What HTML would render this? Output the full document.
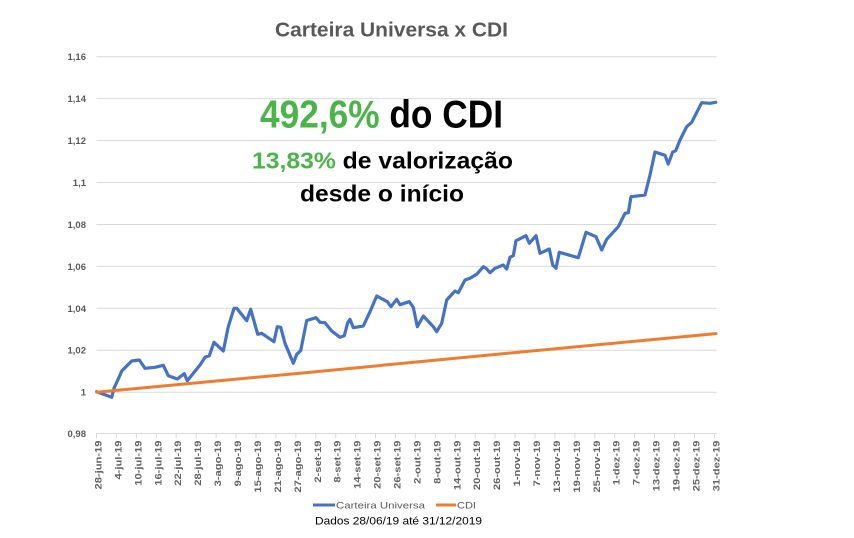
<!DOCTYPE html>
<html>
<head>
<meta charset="utf-8">
<style>
html,body{margin:0;padding:0;background:#fff;}
svg{display:block;font-family:"Liberation Sans",sans-serif;}
</style>
</head>
<body>
<svg width="854" height="538" viewBox="0 0 854 538" xmlns="http://www.w3.org/2000/svg">
<rect width="854" height="538" fill="#fff"/>
<!-- title -->
<text x="275" y="36.7" font-size="20" font-weight="bold" fill="#595959" textLength="233" lengthAdjust="spacingAndGlyphs">Carteira Universa x CDI</text>

<!-- gridlines -->
<g stroke="#d9d9d9" stroke-width="1">
<line x1="96.5" x2="716.5" y1="56.7" y2="56.7"/>
<line x1="96.5" x2="716.5" y1="98.6" y2="98.6"/>
<line x1="96.5" x2="716.5" y1="140.6" y2="140.6"/>
<line x1="96.5" x2="716.5" y1="182.5" y2="182.5"/>
<line x1="96.5" x2="716.5" y1="224.5" y2="224.5"/>
<line x1="96.5" x2="716.5" y1="266.4" y2="266.4"/>
<line x1="96.5" x2="716.5" y1="308.4" y2="308.4"/>
<line x1="96.5" x2="716.5" y1="350.3" y2="350.3"/>
<line x1="96.5" x2="716.5" y1="392.3" y2="392.3"/>
<line x1="96.5" x2="716.5" y1="433.5" y2="433.5"/>
</g>

<!-- y labels -->
<g font-size="9.5" font-weight="bold" fill="#595959" text-anchor="end">
<text x="86" y="60">1,16</text>
<text x="86" y="102">1,14</text>
<text x="86" y="144">1,12</text>
<text x="86" y="186">1,1</text>
<text x="86" y="228">1,08</text>
<text x="86" y="270">1,06</text>
<text x="86" y="312">1,04</text>
<text x="86" y="353.5">1,02</text>
<text x="86" y="395.5">1</text>
<text x="86" y="437">0,98</text>
</g>

<!-- x ticks -->
<g stroke="#d9d9d9" stroke-width="1">
<line x1="96.5" x2="96.5" y1="433.5" y2="438.5"/>
<line x1="116.4" x2="116.4" y1="433.5" y2="438.5"/>
<line x1="136.4" x2="136.4" y1="433.5" y2="438.5"/>
<line x1="156.3" x2="156.3" y1="433.5" y2="438.5"/>
<line x1="176.2" x2="176.2" y1="433.5" y2="438.5"/>
<line x1="196.2" x2="196.2" y1="433.5" y2="438.5"/>
<line x1="216.1" x2="216.1" y1="433.5" y2="438.5"/>
<line x1="236.0" x2="236.0" y1="433.5" y2="438.5"/>
<line x1="256.0" x2="256.0" y1="433.5" y2="438.5"/>
<line x1="275.9" x2="275.9" y1="433.5" y2="438.5"/>
<line x1="295.8" x2="295.8" y1="433.5" y2="438.5"/>
<line x1="315.8" x2="315.8" y1="433.5" y2="438.5"/>
<line x1="335.7" x2="335.7" y1="433.5" y2="438.5"/>
<line x1="355.6" x2="355.6" y1="433.5" y2="438.5"/>
<line x1="375.5" x2="375.5" y1="433.5" y2="438.5"/>
<line x1="395.5" x2="395.5" y1="433.5" y2="438.5"/>
<line x1="415.4" x2="415.4" y1="433.5" y2="438.5"/>
<line x1="435.3" x2="435.3" y1="433.5" y2="438.5"/>
<line x1="455.3" x2="455.3" y1="433.5" y2="438.5"/>
<line x1="475.2" x2="475.2" y1="433.5" y2="438.5"/>
<line x1="495.1" x2="495.1" y1="433.5" y2="438.5"/>
<line x1="515.1" x2="515.1" y1="433.5" y2="438.5"/>
<line x1="535.0" x2="535.0" y1="433.5" y2="438.5"/>
<line x1="554.9" x2="554.9" y1="433.5" y2="438.5"/>
<line x1="574.9" x2="574.9" y1="433.5" y2="438.5"/>
<line x1="594.8" x2="594.8" y1="433.5" y2="438.5"/>
<line x1="614.7" x2="614.7" y1="433.5" y2="438.5"/>
<line x1="634.7" x2="634.7" y1="433.5" y2="438.5"/>
<line x1="654.6" x2="654.6" y1="433.5" y2="438.5"/>
<line x1="674.5" x2="674.5" y1="433.5" y2="438.5"/>
<line x1="694.5" x2="694.5" y1="433.5" y2="438.5"/>
<line x1="714.4" x2="714.4" y1="433.5" y2="438.5"/>
</g>

<!-- x labels -->
<g font-size="9.3" font-weight="bold" fill="#626262" text-anchor="end">
<text transform="translate(101.5,440.5) rotate(-90) scale(1.2,1)">28-jun-19</text>
<text transform="translate(121.4,440.5) rotate(-90) scale(1.2,1)">4-jul-19</text>
<text transform="translate(141.4,440.5) rotate(-90) scale(1.2,1)">10-jul-19</text>
<text transform="translate(161.3,440.5) rotate(-90) scale(1.2,1)">16-jul-19</text>
<text transform="translate(181.2,440.5) rotate(-90) scale(1.2,1)">22-jul-19</text>
<text transform="translate(201.2,440.5) rotate(-90) scale(1.2,1)">28-jul-19</text>
<text transform="translate(221.1,440.5) rotate(-90) scale(1.2,1)">3-ago-19</text>
<text transform="translate(241.0,440.5) rotate(-90) scale(1.2,1)">9-ago-19</text>
<text transform="translate(261.0,440.5) rotate(-90) scale(1.2,1)">15-ago-19</text>
<text transform="translate(280.9,440.5) rotate(-90) scale(1.2,1)">21-ago-19</text>
<text transform="translate(300.8,440.5) rotate(-90) scale(1.2,1)">27-ago-19</text>
<text transform="translate(320.8,440.5) rotate(-90) scale(1.2,1)">2-set-19</text>
<text transform="translate(340.7,440.5) rotate(-90) scale(1.2,1)">8-set-19</text>
<text transform="translate(360.6,440.5) rotate(-90) scale(1.2,1)">14-set-19</text>
<text transform="translate(380.5,440.5) rotate(-90) scale(1.2,1)">20-set-19</text>
<text transform="translate(400.5,440.5) rotate(-90) scale(1.2,1)">26-set-19</text>
<text transform="translate(420.4,440.5) rotate(-90) scale(1.2,1)">2-out-19</text>
<text transform="translate(440.3,440.5) rotate(-90) scale(1.2,1)">8-out-19</text>
<text transform="translate(460.3,440.5) rotate(-90) scale(1.2,1)">14-out-19</text>
<text transform="translate(480.2,440.5) rotate(-90) scale(1.2,1)">20-out-19</text>
<text transform="translate(500.1,440.5) rotate(-90) scale(1.2,1)">26-out-19</text>
<text transform="translate(520.1,440.5) rotate(-90) scale(1.2,1)">1-nov-19</text>
<text transform="translate(540.0,440.5) rotate(-90) scale(1.2,1)">7-nov-19</text>
<text transform="translate(559.9,440.5) rotate(-90) scale(1.2,1)">13-nov-19</text>
<text transform="translate(579.9,440.5) rotate(-90) scale(1.2,1)">19-nov-19</text>
<text transform="translate(599.8,440.5) rotate(-90) scale(1.2,1)">25-nov-19</text>
<text transform="translate(619.7,440.5) rotate(-90) scale(1.2,1)">1-dez-19</text>
<text transform="translate(639.7,440.5) rotate(-90) scale(1.2,1)">7-dez-19</text>
<text transform="translate(659.6,440.5) rotate(-90) scale(1.2,1)">13-dez-19</text>
<text transform="translate(679.5,440.5) rotate(-90) scale(1.2,1)">19-dez-19</text>
<text transform="translate(699.5,440.5) rotate(-90) scale(1.2,1)">25-dez-19</text>
<text transform="translate(719.4,440.5) rotate(-90) scale(1.2,1)">31-dez-19</text>
</g>

<!-- Carteira Universa series -->
<polyline fill="none" stroke="#4472C4" stroke-width="3.2" stroke-linejoin="round" stroke-linecap="round" points="
96.7,391.7 111.7,397.3 114,388.3 119.3,376.7 121.7,371 131.7,361 139.3,360 145,368.3 155,367.3 163.3,365.3
168.3,375.7 177.3,379 184.3,373.7 187.3,380.7 200,365 205,357.3 209.3,355.7 214,342.3 223.3,351 228.3,326.7
234,308.3 236.7,308.3 246.7,320.7 250.7,309.3 257.7,334.3 261.7,333.3 274,341.7 277.3,326.7 280.7,327.3 285,343.3
293.3,363.3 296.7,354.3 300.7,350.7 306.7,320.5 316,317.7 320,322.3 325,322.7 331.7,331 340,337.3 344.3,335.7
347.7,322.7 350,319.3 353.3,327.7 363.3,326 370,311.7 376.7,296 387.3,301.7 391,306.7 396.7,299.3 400,304.7
409.3,301.7 413.3,307.3 417.3,326.7 423.3,316 433.3,326.7 436.7,331.7 441.7,323.3 446.7,300 455,291 458.3,292.7
465,280 470,278.3 476.7,274.3 483.3,266.7 486,268.3 490,272.7 495,268.3 503.3,265 506.7,269 510,257.3
513.3,255.7 516,240.7 526,235.7 529.3,243.3 536,235.7 540,253.3 549.3,249 552.7,265 556,268.3 559.3,252.3
578.3,257.7 586,232.3 596,236.7 601.7,250 606.7,239.3 618.3,226.7 625,213.3 628.3,212.7 631,196.7 645,195
650,175 655,152 665,155.3 668.3,164 672.7,152 675.7,150.7 680,140 686.7,126.7 691.7,122.3 701.7,102.7
710,103.3 715.7,102.3"/>

<!-- CDI series -->
<polyline fill="none" stroke="#ED7D31" stroke-width="3" stroke-linecap="round" points="96.7,392.2 300,373.2 500,354 716,333.6"/>

<!-- annotation text -->
<text x="260" y="127.5" font-size="39" font-weight="bold" textLength="243" lengthAdjust="spacingAndGlyphs"><tspan fill="#4BB449">492,6%</tspan><tspan fill="#000"> do CDI</tspan></text>
<text x="252" y="168.5" font-size="23.5" font-weight="bold" textLength="261" lengthAdjust="spacingAndGlyphs"><tspan fill="#4BB449">13,83%</tspan><tspan fill="#000"> de valorização</tspan></text>
<text x="300" y="201.7" font-size="23.5" font-weight="bold" fill="#000" textLength="164" lengthAdjust="spacingAndGlyphs">desde o início</text>

<!-- legend -->
<line x1="313" x2="335" y1="505" y2="505" stroke="#4472C4" stroke-width="3"/>
<text x="336" y="508.5" font-size="9.5" fill="#595959" textLength="89" lengthAdjust="spacingAndGlyphs">Carteira Universa</text>
<line x1="436" x2="456" y1="505" y2="505" stroke="#ED7D31" stroke-width="3"/>
<text x="457" y="508.5" font-size="9.5" fill="#595959" textLength="19" lengthAdjust="spacingAndGlyphs">CDI</text>
<text x="315" y="524.3" font-size="10.7" fill="#000" textLength="167" lengthAdjust="spacingAndGlyphs">Dados 28/06/19 até 31/12/2019</text>
</svg>
</body>
</html>
